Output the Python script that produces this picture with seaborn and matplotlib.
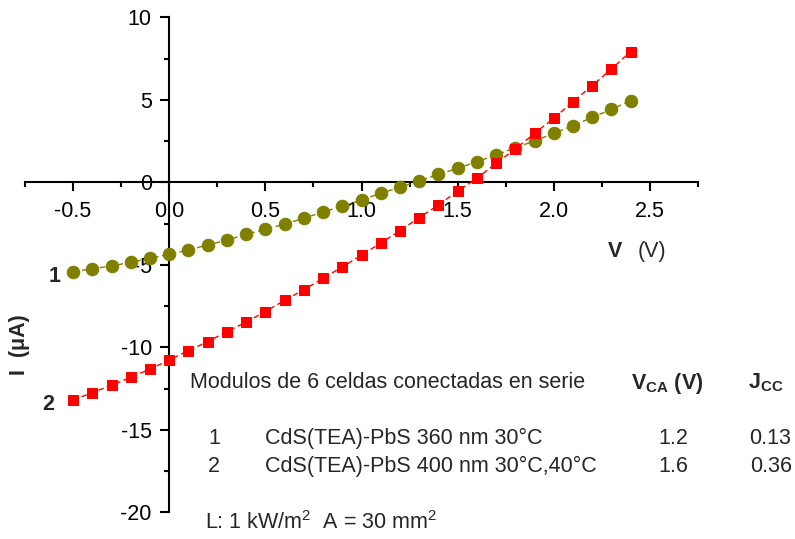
import matplotlib
matplotlib.use("Agg")
import matplotlib.pyplot as plt
import seaborn as sns
import numpy as np
from matplotlib.ticker import MultipleLocator, FixedLocator

sns.set_theme(style="white")
plt.rcParams['font.family'] = ['Liberation Sans', 'DejaVu Sans']
plt.rcParams['mathtext.fontset'] = 'custom'
plt.rcParams['mathtext.rm'] = 'Liberation Sans'
plt.rcParams['mathtext.bf'] = 'Liberation Sans:bold'

# Data
voltage = [-0.5, -0.4, -0.3, -0.2, -0.1, 0.0, 0.1, 0.2, 0.3, 0.4, 0.5, 0.6, 0.7, 0.8, 0.9,
           1.0, 1.1, 1.2, 1.3, 1.4, 1.5, 1.6, 1.7, 1.8, 1.9, 2.0, 2.1, 2.2, 2.3, 2.4]
current_1 = [-5.42, -5.24, -5.07, -4.85, -4.61, -4.36, -4.10, -3.80, -3.50, -3.15, -2.85,
             -2.53, -2.18, -1.80, -1.45, -1.07, -0.67, -0.30, 0.08, 0.48, 0.85, 1.25,
             1.65, 2.10, 2.50, 2.97, 3.43, 3.94, 4.42, 4.95]
current_2 = [-13.19, -12.75, -12.30, -11.82, -11.32, -10.77, -10.20, -9.66, -9.05, -8.47,
             -7.84, -7.15, -6.51, -5.82, -5.13, -4.42, -3.68, -2.93, -2.14, -1.38, -0.53,
             0.24, 1.15, 2.02, 2.97, 3.88, 4.89, 5.86, 6.87, 7.92]
x_ticks = [-0.5, 0.0, 0.5, 1.0, 1.5, 2.0, 2.5]
x_tick_labels = ["-0.5", "0.0", "0.5", "1.0", "1.5", "2.0", "2.5"]
y_ticks = [-20, -15, -10, -5, 0, 5, 10]
y_tick_labels = ["-20", "-15", "-10", "-5", "0", "5", "10"]

fig = plt.figure(figsize=(7.95, 5.39), dpi=100)
ax = fig.add_axes([25/795, 1-512.3/539, 673/795, (512.3-17.3)/539])

sns.lineplot(x=voltage, y=current_1, ax=ax, color='#808000', linestyle=(0, (4, 2.5)),
             linewidth=1.0, marker='o', markersize=9, markeredgecolor='#808000',
             markerfacecolor='#808000', sort=False, zorder=3)
sns.lineplot(x=voltage, y=current_2, ax=ax, color='#ff0000', linestyle=(0, (4, 2.5)),
             linewidth=1.0, marker='s', markersize=7.5, markeredgecolor='#ff0000',
             markerfacecolor='#ff0000', sort=False, zorder=3)

ax.set_xlim(-0.75, 2.75)
ax.set_ylim(-20, 10)
ax.spines['left'].set_position(('data', 0))
ax.spines['bottom'].set_position(('data', 0))
ax.spines['right'].set_visible(False)
ax.spines['top'].set_visible(False)
for s in ('left', 'bottom'):
    ax.spines[s].set_linewidth(1.5)
    ax.spines[s].set_color('black')
ax.set_facecolor('none')
ax.grid(False)

fs = 15.5
ax.xaxis.set_major_locator(FixedLocator(x_ticks))
ax.set_xticklabels(x_tick_labels)
ax.xaxis.set_minor_locator(MultipleLocator(0.25))
ax.yaxis.set_major_locator(FixedLocator(y_ticks))
ax.set_yticklabels(y_tick_labels)
ax.yaxis.set_minor_locator(MultipleLocator(2.5))
ax.tick_params(axis='both', which='major', direction='out', length=6.5, width=1.5,
               labelsize=fs, colors='black')
ax.tick_params(axis='both', which='minor', direction='out', length=3.5, width=1.5,
               colors='black')
ax.tick_params(axis='x', which='both', bottom=True, pad=7)
ax.tick_params(axis='y', which='both', left=True, pad=6)

fig.text(615/795, 1-252/539, "V", ha='center', va='center', fontsize=fs, fontweight='bold')
fig.text(652/795, 1-252/539, "(V)", ha='center', va='center', fontsize=fs)
fig.text(20/795, 1-345/539, "I  (μA)", ha='center', va='center', fontsize=fs,
         fontweight='bold', rotation=90)
fig.text(55/795, 1-277/539, "1", ha='center', va='center', fontsize=fs, fontweight='bold')
fig.text(48/795, 1-404/539, "2", ha='center', va='center', fontsize=fs, fontweight='bold')

fig.text(190/795, 1-383/539, "Modulos de 6 celdas conectadas en serie", ha='left',
         va='center', fontsize=fs)
fig.text(703/795, 1-383/539, r"$\mathbf{V_{CA}}$ (V)", ha='right', va='center',
         fontsize=fs, fontweight='bold')
fig.text(748/795, 1-383/539, r"$\mathbf{J_{CC}}$", ha='left', va='center',
         fontsize=fs, fontweight='bold')

fig.text(208/795, 1-438/539, "1", ha='left', va='center', fontsize=fs)
fig.text(265/795, 1-438/539, "CdS(TEA)-PbS 360 nm 30°C", ha='left', va='center', fontsize=fs)
fig.text(688/795, 1-438/539, "1.2", ha='right', va='center', fontsize=fs)
fig.text(791/795, 1-438/539, "0.13", ha='right', va='center', fontsize=fs)

fig.text(208/795, 1-466/539, "2", ha='left', va='center', fontsize=fs)
fig.text(265/795, 1-466/539, "CdS(TEA)-PbS 400 nm 30°C,40°C", ha='left', va='center', fontsize=fs)
fig.text(688/795, 1-466/539, "1.6", ha='right', va='center', fontsize=fs)
fig.text(792/795, 1-466/539, "0.36", ha='right', va='center', fontsize=fs)

fig.text(205/795, 1-523/539, r"L: 1 kW/m$^2$  A = 30 mm$^2$", ha='left', va='center', fontsize=fs)

fig.savefig("out.png", dpi=100, facecolor='white')
